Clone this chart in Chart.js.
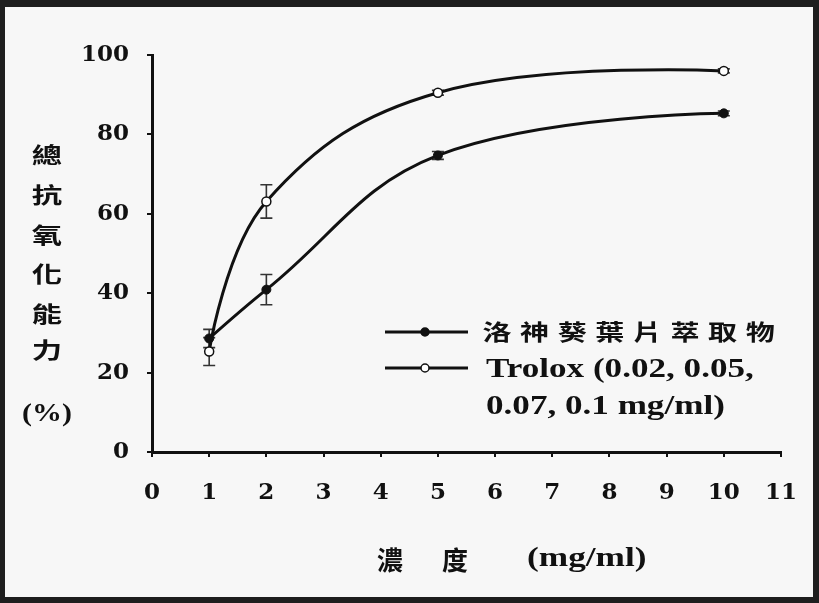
<!DOCTYPE html>
<html>
<head>
<meta charset="utf-8">
<script src="https://cdn.jsdelivr.net/npm/chart.js@4.4.1/dist/chart.umd.min.js"></script>
<style>
  html, body { margin: 0; padding: 0; background: #f7f7f7; }
  #wrap { position: absolute; left: 0; top: 0; width: 819px; height: 603px; }
  canvas { display: block; }
</style>
</head>
<body>
<div id="wrap"><canvas id="c" width="819" height="603"></canvas></div>
<script>
// ---- data ----
const concentrations = [1, 2, 5, 10];
const extractValues = [28.6, 40.9, 74.7, 85.3];
const extractErrors = [2.3, 3.8, 1.0, 0.6];
const troloxValues = [25.3, 63.1, 90.5, 96.0];
const troloxErrors = [3.5, 4.2, 0.6, 0.5];
const xTickValues = [0, 1, 2, 3, 4, 5, 6, 7, 8, 9, 10, 11];
const yTickValues = [0, 20, 40, 60, 80, 100];

const extractLabel = '洛神葵葉片萃取物';
const troloxLabelLines = ['Trolox (0.02, 0.05,', '0.07, 0.1 mg/ml)'];
const yTitleChars = ['總', '抗', '氧', '化', '能', '力'];
const yTitleUnit = '(%)';
const xTitleChars = ['濃', '度'];
const xTitleUnit = '(mg/ml)';

const toPoints = (xs, ys) => xs.map((x, i) => ({ x: x, y: ys[i] }));

const CJK = '"Noto Sans CJK TC", "Noto Sans CJK SC", sans-serif';
const SERIF = '"Liberation Serif", "DejaVu Serif", serif';
const INK = '#111111';

function drawText(ctx, str, cx, cy, font, sx, align) {
  ctx.save();
  ctx.font = font;
  ctx.fillStyle = INK;
  ctx.textBaseline = 'middle';
  ctx.textAlign = align || 'center';
  ctx.translate(cx, cy);
  ctx.scale(sx, 1);
  ctx.fillText(str, 0, 0);
  ctx.restore();
}

const framePlugin = {
  id: 'frame',
  beforeDraw(chart) {
    const ctx = chart.ctx;
    ctx.save();
    ctx.fillStyle = '#1e1e1e';
    ctx.fillRect(0, 0, chart.width, chart.height);
    ctx.fillStyle = '#f7f7f7';
    ctx.fillRect(5, 7, chart.width - 11, chart.height - 13);
    ctx.restore();
  }
};

// Excel-style smoothing: end segments leave/enter the end points along the neighbour tangent
const smoothEndsPlugin = {
  id: 'smoothEnds',
  beforeDatasetsDraw(chart) {
    chart.data.datasets.forEach((ds, i) => {
      const meta = chart.getDatasetMeta(i);
      if (!meta.dataset || !meta.data.length) return;
      meta.dataset.updateControlPoints(chart.chartArea, 'x');
      const first = meta.data[0];
      const last = meta.data[meta.data.length - 1];
      first.cp2x = first.x; first.cp2y = first.y;
      last.cp1x = last.x; last.cp1y = last.y;
    });
  }
};

const errorBarPlugin = {
  id: 'errorBars',
  beforeDatasetsDraw(chart) {
    const ctx = chart.ctx;
    const xs = chart.scales.x, ys = chart.scales.y;
    ctx.save();
    ctx.strokeStyle = '#333333';
    ctx.lineWidth = 1.6;
    chart.data.datasets.forEach(ds => {
      ds.data.forEach((p, i) => {
        const e = ds.errors[i];
        const px = xs.getPixelForValue(p.x);
        const top = ys.getPixelForValue(p.y + e);
        const bot = ys.getPixelForValue(p.y - e);
        ctx.beginPath();
        ctx.moveTo(px, top); ctx.lineTo(px, bot);
        ctx.moveTo(px - 6, top); ctx.lineTo(px + 6, top);
        ctx.moveTo(px - 6, bot); ctx.lineTo(px + 6, bot);
        ctx.stroke();
      });
    });
    ctx.restore();
  }
};

const labelsPlugin = {
  id: 'customLabels',
  afterDraw(chart) {
    const ctx = chart.ctx;
    // y title (stacked characters)
    const yCenters = [155, 195, 235, 274, 314, 350];
    yTitleChars.forEach((ch, i) => drawText(ctx, ch, 47, yCenters[i], 'bold 22px ' + CJK, 1.38));
    drawText(ctx, yTitleUnit, 47, 414, 'bold 26px ' + SERIF, 1.15);
    // x title
    drawText(ctx, xTitleChars[0], 390, 560, 'bold 26px ' + CJK, 1.0);
    drawText(ctx, xTitleChars[1], 455, 560, 'bold 26px ' + CJK, 1.0);
    drawText(ctx, xTitleUnit, 527, 559, 'bold 28px ' + SERIF, 1.26, 'left');

    // legend
    const sets = chart.data.datasets;
    const rows = [332, 368];
    sets.forEach((ds, i) => {
      const y = rows[i];
      ctx.save();
      ctx.strokeStyle = ds.borderColor;
      ctx.lineWidth = 3;
      ctx.beginPath(); ctx.moveTo(385, y); ctx.lineTo(468, y); ctx.stroke();
      ctx.beginPath(); ctx.arc(425, y, 4, 0, Math.PI * 2);
      ctx.fillStyle = ds.pointBackgroundColor;
      ctx.fill();
      ctx.lineWidth = 1.5; ctx.strokeStyle = INK; ctx.stroke();
      ctx.restore();
    });
    Array.from(extractLabel).forEach((ch, i) => drawText(ctx, ch, 497 + i * 37.6, 332, 'bold 22px ' + CJK, 1.32));
    drawText(ctx, troloxLabelLines[0], 486, 370, 'bold 27px ' + SERIF, 1.3, 'left');
    drawText(ctx, troloxLabelLines[1], 486, 407, 'bold 27px ' + SERIF, 1.3, 'left');
  }
};

const tickFont = { family: '"DejaVu Serif", serif', size: 23, weight: 'bold' };

new Chart(document.getElementById('c'), {
  type: 'scatter',
  data: {
    datasets: [
      {
        label: extractLabel,
        data: toPoints(concentrations, extractValues),
        errors: extractErrors,
        showLine: true,
        borderColor: INK,
        borderWidth: 3,
        tension: 0.4,
        pointRadius: 4.5,
        pointBackgroundColor: INK,
        pointBorderColor: INK,
        pointBorderWidth: 1,
      },
      {
        label: troloxLabelLines.join(' '),
        data: toPoints(concentrations, troloxValues),
        errors: troloxErrors,
        showLine: true,
        borderColor: INK,
        borderWidth: 3,
        tension: 0.4,
        pointRadius: 4.5,
        pointBackgroundColor: '#ffffff',
        pointBorderColor: INK,
        pointBorderWidth: 1.5,
      }
    ]
  },
  options: {
    responsive: false,
    animation: false,
    layout: { padding: { left: 0, right: 37, top: 55, bottom: 0 } },
    plugins: { legend: { display: false }, tooltip: { enabled: false } },
    scales: {
      x: {
        type: 'linear', min: 0, max: 11,
        afterFit: s => { s.height = 151; },
        afterBuildTicks: s => { s.ticks = xTickValues.map(v => ({ value: v })); },
        grid: { drawOnChartArea: false, drawTicks: true, tickLength: 5, color: INK, lineWidth: 2 },
        border: { display: true, color: INK, width: 3 },
        ticks: { color: INK, font: tickFont, padding: 22, maxRotation: 0, autoSkip: false }
      },
      y: {
        type: 'linear', min: 0, max: 100,
        afterFit: s => { s.width = 152; },
        afterBuildTicks: s => { s.ticks = yTickValues.map(v => ({ value: v })); },
        grid: { drawOnChartArea: false, drawTicks: true, tickLength: 5, color: INK, lineWidth: 2 },
        border: { display: true, color: INK, width: 3 },
        ticks: { color: INK, font: tickFont, padding: 18 }
      }
    }
  },
  plugins: [framePlugin, smoothEndsPlugin, errorBarPlugin, labelsPlugin]
});
</script>
</body>
</html>
